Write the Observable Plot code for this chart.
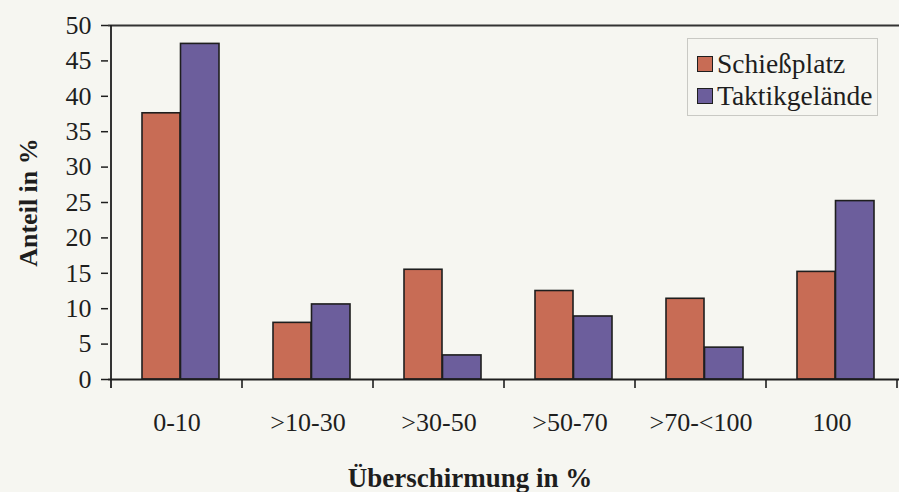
<!DOCTYPE html>
<html>
<head>
<meta charset="utf-8">
<script src="https://cdn.jsdelivr.net/npm/d3@7"></script>
<script src="https://cdn.jsdelivr.net/npm/@observablehq/plot@0.6"></script>
<style>
  html, body { margin: 0; padding: 0; background: #f6f6f1; }
  #wrap { position: relative; width: 899px; height: 492px; overflow: hidden; background: #f6f6f1; }
  #legend { position: absolute; left: 687px; top: 38px; width: 191px; height: 78px; box-sizing: border-box;
    border: 1px solid #c9c9c4; font-family: "Liberation Serif", serif; font-size: 27.5px; color: #1e1e1e; }
  .item { position: absolute; left: 9px; display: flex; align-items: center; height: 30px; }
  .sw { width: 14px; height: 14px; border: 1.5px solid #1e1e1e; margin-right: 4px; }
</style>
</head>
<body>
<div id="wrap"><div id="legend"></div></div>
<script>
const categories = ["0-10", ">10-30", ">30-50", ">50-70", ">70-<100", "100"];
const seriesNames = ["Schießplatz", "Taktikgelände"];
const schiessplatz = [37.6, 8.0, 15.5, 12.5, 11.4, 15.2];
const taktikgelaende = [47.4, 10.6, 3.4, 8.9, 4.5, 25.2];
const yTicks = [0, 5, 10, 15, 20, 25, 30, 35, 40, 45, 50];
const colors = ["#c86c55", "#6c5e9c"];
const yLabel = "Anteil in %";
const xLabel = "Überschirmung in %";

const rowsA = categories.map((c, i) => ({cat: c, series: seriesNames[0], value: schiessplatz[i]}));
const rowsB = categories.map((c, i) => ({cat: c, series: seriesNames[1], value: taktikgelaende[i]}));

const ink = "#1e1e1e";
const chart = Plot.plot({
  width: 899,
  height: 492,
  marginTop: 25,
  marginBottom: 113,
  marginLeft: 108,
  marginRight: 0,
  style: {fontFamily: "Liberation Serif, serif", fontSize: "26px", background: "transparent", color: ink, overflow: "visible"},
  x: {domain: categories, padding: 0},
  y: {domain: [0, 50]},
  color: {domain: seriesNames, range: colors},
  marks: [
    Plot.barY(rowsA, {x: "cat", y: "value", fill: "series", stroke: ink, strokeWidth: 1.6, insetLeft: 31, insetRight: 62}),
    Plot.barY(rowsB, {x: "cat", y: "value", fill: "series", stroke: ink, strokeWidth: 1.6, insetLeft: 69.5, insetRight: 23}),
    Plot.ruleY([0], {stroke: ink, strokeWidth: 1.8}),
    Plot.ruleY([50], {stroke: "#333", strokeWidth: 2}),
    Plot.axisY({ticks: yTicks, tickSize: 7, tickPadding: 10, tickFormat: d => d, label: null, stroke: ink, strokeWidth: 1.5, fontSize: 26}),
    Plot.axisX({tickSize: 0, tickPadding: 33, label: null, fontSize: 26}),
    Plot.text([yLabel], {frameAnchor: "left", textAnchor: "middle", lineAnchor: "middle", dx: -80, rotate: -90, fontWeight: "bold", fontSize: 26, fill: ink}),
    Plot.text([xLabel], {frameAnchor: "bottom", textAnchor: "middle", lineAnchor: "middle", dx: -34, dy: 99, fontWeight: "bold", fontSize: 27, fill: ink})
  ]
});

// left axis line and category boundary ticks, placed with the x and y scales
const xs = chart.scale("x");
const ys = chart.scale("y");
const svg = d3.select(chart);
const step = xs.bandwidth;
const y0 = ys.apply(0), yTop = ys.apply(50);
const bounds = categories.map(c => xs.apply(c)).concat([xs.apply(categories[categories.length - 1]) + step]);
svg.append("line").attr("x1", bounds[0]).attr("x2", bounds[0]).attr("y1", yTop).attr("y2", y0 + 9)
  .attr("stroke", ink).attr("stroke-width", 1.8);
svg.selectAll(null).data(bounds.slice(1)).join("line")
  .attr("x1", d => d).attr("x2", d => d).attr("y1", y0).attr("y2", y0 + 9)
  .attr("stroke", ink).attr("stroke-width", 1.6);

document.getElementById("wrap").prepend(chart);

const legend = document.getElementById("legend");
seriesNames.forEach((s, i) => {
  const it = document.createElement("div");
  it.className = "item";
  it.style.top = (10 + i * 32) + "px";
  const sw = document.createElement("span");
  sw.className = "sw";
  sw.style.background = colors[i];
  const t = document.createElement("span");
  t.textContent = s;
  it.append(sw, t);
  legend.append(it);
});
</script>
</body>
</html>
